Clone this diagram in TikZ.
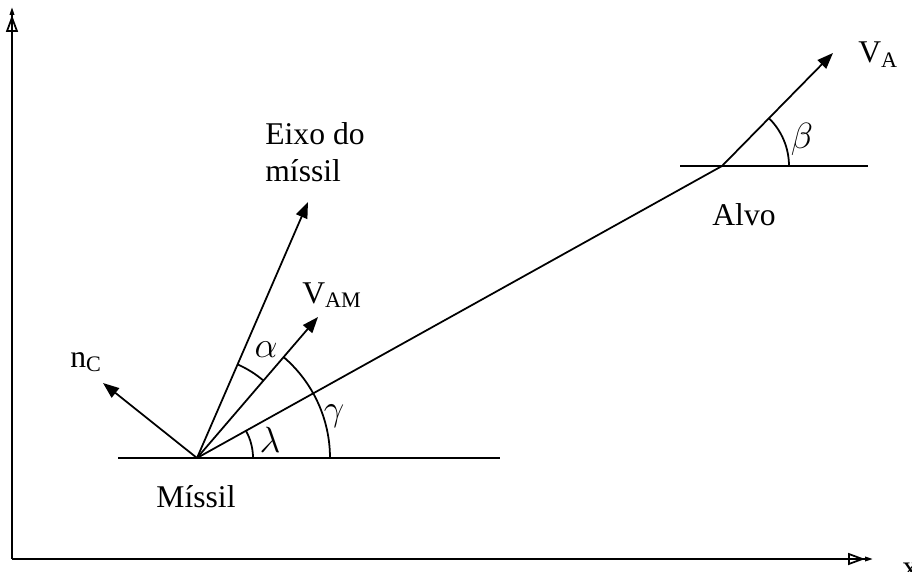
\documentclass[tikz,border=0pt]{standalone}
\usepackage{fontspec}
\setmainfont{Liberation Serif}
\usetikzlibrary{arrows.meta, positioning, calc}
\tikzset{
    ln/.style={line width=1pt, black},
    arr/.style={ln, -{Triangle[length=3.2mm, width=2.4mm]}},
    axisarr/.style={ln, -{Triangle[open, length=3.4mm, width=2.4mm]Triangle[length=1.6mm, width=0.9mm]}},
    lbl/.style={font=\fontsize{18}{21}\selectfont, inner sep=0pt, align=left},
    greek/.style={font=\fontsize{22}{24}\selectfont, inner sep=0pt},
    ang/.style={line width=1pt}
}

\begin{document}
\begin{tikzpicture}
    \useasboundingbox (0,0) rectangle (18.24,11.42);
    % axes
    \coordinate (O) at (0.24,0.24);
    \coordinate (ytop) at (0.24,11.28);
    \coordinate (xend) at (17.46,0.24);
    \draw[axisarr] (O) -- (ytop);
    \draw[axisarr] (O) -- (xend);
    \node[lbl, anchor=base west] (xlbl) at (18.04,-0.12) {x};
    % missil and alvo
    \coordinate (M) at (3.94,2.26);
    \coordinate (A) at (14.44,8.10);
    \coordinate (Ml) at (2.36,2.26);
    \coordinate (Mr) at (10.0,2.26);
    \coordinate (Al) at (13.6,8.10);
    \coordinate (Ar) at (17.36,8.10);
    \draw[ln] (Ml) -- (Mr);
    \draw[ln] (Al) -- (Ar);
    \draw[ln] (M) -- (A);
    % vectors
    \coordinate (vA) at (16.66,10.36);
    \coordinate (eixo) at (6.16,7.38);
    \coordinate (vAM) at (6.36,5.08);
    \coordinate (nC) at (2.06,3.76);
    \draw[arr] (A) -- (vA);
    \draw[arr] (M) -- (eixo);
    \draw[arr] (M) -- (vAM);
    \draw[arr] (M) -- (nC);
    % angles
    \draw[ang] ($(M)+(1.12,0)$) arc[start angle=0, end angle=29.1, radius=1.12];
    \draw[ang] ($(M)+(2.66,0)$) arc[start angle=0, end angle=49.4, radius=2.66];
    \draw[ang] ($(M)+(49.4:2.04)$) arc[start angle=49.4, end angle=66.6, radius=2.04];
    \draw[ang] ($(A)+(1.34,0)$) arc[start angle=0, end angle=45.5, radius=1.34];
    % labels
    \node[lbl, anchor=base west] (lvA) at (17.16,10.16) {V\textsubscript{A}};
    \node[lbl, anchor=base west] (lvAM) at (6.04,5.36) {V\textsubscript{AM}};
    \node[lbl, anchor=west] (leixo) at (5.30,8.37) {Eixo do\\míssil};
    \node[lbl, anchor=base west] (lnC) at (1.40,4.08) {n\textsubscript{C}};
    \node[lbl, anchor=base] (lmissil) at (3.92,1.28) {Míssil};
    \node[lbl, anchor=base] (lalvo) at (14.88,6.92) {Alvo};
    \node[greek] (lalpha) at (5.32,4.42) {$\alpha$};
    \node[greek] (llambda) at (5.40,2.62) {$\lambda$};
    \node[greek] (lgamma) at (6.68,3.10) {$\gamma$};
    \node[greek] (lbeta) at (16.04,8.64) {$\beta$};
\end{tikzpicture}
\end{document}
